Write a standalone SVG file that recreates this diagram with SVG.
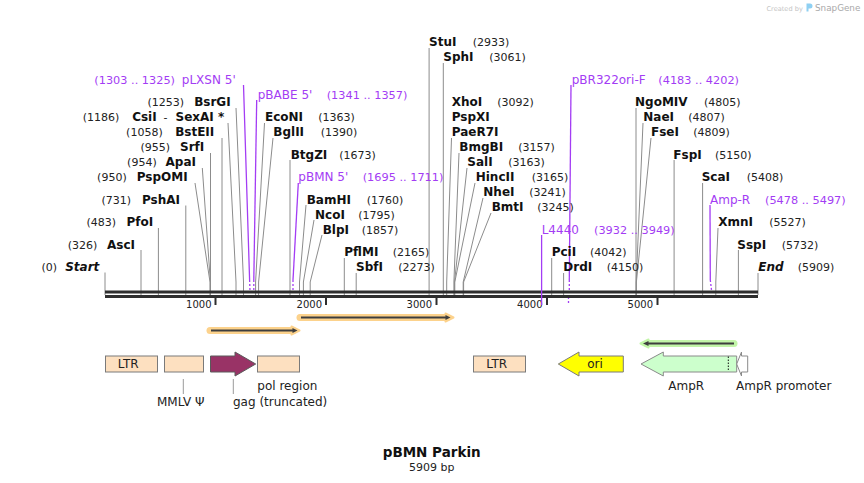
<svg xmlns="http://www.w3.org/2000/svg" width="864" height="483" viewBox="0 0 864 483">
<style>
text{font-family:"DejaVu Sans",Verdana,sans-serif;}
.n{font-size:12px;font-weight:bold;fill:#111}
.c{font-size:11px;fill:#222}
.pn{font-size:12px;fill:#a33cf4}
.pc{font-size:11.3px;fill:#a33cf4}
.e{text-anchor:end}
.ln{fill:none;stroke:#8c8c8c;stroke-width:1}
.pl{fill:none;stroke:#a33cf4;stroke-width:1.3}
.pd{fill:none;stroke:#a33cf4;stroke-width:1.3;stroke-dasharray:2 2}
.tk{font-size:10px;fill:#222;text-anchor:end}
.fl{font-size:12px;fill:#222}
.box{fill:#fde0c0;stroke:#7a7a7a;stroke-width:1}
.ld{stroke:#9a9a9a;stroke-width:1}
</style>

<!-- watermark -->
<g id="watermark">
<text x="766.5" y="10.5" font-size="6.6" fill="#c4c4c4">Created by</text>
<path d="M806.5,3.5 h3.5 a2.5,2.5 0 0 1 0,5 h-1.5 v3 h-2 z" fill="#8fd0f2"/>
<text x="815" y="11" font-size="8.8" fill="#a9a9a9">SnapGene</text>
</g>

<!-- connectors -->
<g id="connectors">
<path class="ln" d="M105,272.5V295"/>
<path class="ln" d="M141,250V295"/>
<path class="ln" d="M158.4,228V295"/>
<path class="ln" d="M185.8,205.5V295"/>
<path class="ln" d="M195,183L210,282V295"/>
<path class="ln" d="M202.3,168L210.4,282V295"/>
<path class="ln" d="M210.5,153V295"/>
<path class="ln" d="M222,138V295"/>
<path class="ln" d="M228,123L236,282V295"/>
<path class="ln" d="M236,108L243.5,282V295"/>
<path class="ln" d="M264.5,123L255.6,282V295"/>
<path class="ln" d="M273,138L258.6,282V295"/>
<path class="ln" d="M290,160V295"/>
<path class="ln" d="M306,205L299.5,282V295"/>
<path class="ln" d="M314,220L303.4,282V295"/>
<path class="ln" d="M322,235L310.2,282V295"/>
<path class="ln" d="M344.3,258V295"/>
<path class="ln" d="M356.2,273V295"/>
<path class="ln" d="M429.1,48V295"/>
<path class="ln" d="M443.3,63V295"/>
<path class="ln" d="M451.5,138L446.7,282V295"/>
<path class="ln" d="M459,153L453.9,282V295"/>
<path class="ln" d="M467,168L454.5,282V295"/>
<path class="ln" d="M475,183L454.8,282V295"/>
<path class="ln" d="M483,198L463.2,282V295"/>
<path class="ln" d="M491,213L463.6,282V295"/>
<path class="ln" d="M551.7,258V295"/>
<path class="ln" d="M563.6,273V295"/>
<path class="ln" d="M636,108V295"/>
<path class="ln" d="M643,123L636.2,282V295"/>
<path class="ln" d="M651,138L636.4,282V295"/>
<path class="ln" d="M674.1,160V295"/>
<path class="ln" d="M702.6,183V295"/>
<path class="ln" d="M718,228L715.8,282V295"/>
<path class="ln" d="M738.4,250V295"/>
<path class="ln" d="M758,273V295"/>
<!-- primers -->
<path class="pl" d="M243.5,85L249.6,280"/><path class="pd" d="M249.6,280L250,291"/>
<path class="pl" d="M256.7,100L253.8,280"/><path class="pd" d="M253.8,280L253.8,291"/>
<path class="pl" d="M298.3,183L293,280"/><path class="pd" d="M293,280L293,291"/>
<path class="pl" d="M571,85L569.3,280"/><path class="pd" d="M569.3,280V291M568.5,297V303"/>
<path class="pl" d="M710,205L710.3,280"/><path class="pd" d="M710.3,280L711.5,290"/>
</g>

<!-- sequence bar -->
<g id="backbone">
<rect x="105" y="290.5" width="653" height="3" fill="#2e2e2e"/>
<rect x="105" y="295" width="653" height="3" fill="#2e2e2e"/>
<rect x="214.5" y="297.5" width="2" height="7.5" fill="#2e2e2e"/>
<rect x="325" y="297.5" width="2" height="7.5" fill="#2e2e2e"/>
<rect x="435.5" y="297.5" width="2" height="7.5" fill="#2e2e2e"/>
<rect x="546" y="297.5" width="2" height="7.5" fill="#2e2e2e"/>
<rect x="656.5" y="297.5" width="2" height="7.5" fill="#2e2e2e"/>
<text class="tk" x="211.5" y="307.5">1000</text>
<text class="tk" x="322" y="307.5">2000</text>
<text class="tk" x="432" y="307.5">3000</text>
<text class="tk" x="542.5" y="307.5">4000</text>
<text class="tk" x="653" y="307.5">5000</text>
<path d="M541.6,235V305" stroke="#a33cf4" stroke-width="1.3"/>
</g>

<!-- left labels -->
<g id="Start"><text class="c e" x="57" y="271">(0)</text><text class="n e" x="99.3" y="271" font-style="italic">Start</text></g>
<g id="AscI"><text class="c e" x="97.3" y="248.5">(326)</text><text class="n e" x="135" y="248.5">AscI</text></g>
<g id="PfoI"><text class="c e" x="116" y="226">(483)</text><text class="n e" x="153.3" y="226">PfoI</text></g>
<g id="PshAI"><text class="c e" x="131" y="203.5">(731)</text><text class="n e" x="180" y="203.5">PshAI</text></g>
<g id="PspOMI"><text class="c e" x="126.7" y="181">(950)</text><text class="n e" x="187.7" y="181">PspOMI</text></g>
<g id="ApaI"><text class="c e" x="156.7" y="166">(954)</text><text class="n e" x="196" y="166">ApaI</text></g>
<g id="SrfI"><text class="c e" x="170" y="151">(955)</text><text class="n e" x="204.3" y="151">SrfI</text></g>
<g id="BstEII"><text class="c e" x="162.7" y="136">(1058)</text><text class="n e" x="214.3" y="136">BstEII</text></g>
<g id="CsiI-SexAI"><text class="c e" x="119.3" y="121">(1186)</text><text class="n e" x="156.7" y="121">CsiI</text><text class="c" x="163.5" y="121">-</text><text class="n e" x="224.3" y="121">SexAI *</text></g>
<g id="BsrGI"><text class="c e" x="184" y="106">(1253)</text><text class="n e" x="230.7" y="106">BsrGI</text></g>
<g id="pLXSN5"><text class="pc e" x="175" y="83.5">(1303 .. 1325)</text><text class="pn e" x="235.7" y="83.5">pLXSN 5'</text></g>

<!-- right labels -->
<g id="pBABE5"><text class="pn" x="257.7" y="98.5">pBABE 5'</text><text class="pc" x="326.7" y="98.5">(1341 .. 1357)</text></g>
<g id="EcoNI"><text class="n" x="265" y="121">EcoNI</text><text class="c" x="318.3" y="121">(1363)</text></g>
<g id="BglII"><text class="n" x="273.3" y="136">BglII</text><text class="c" x="320.7" y="136">(1390)</text></g>
<g id="BtgZI"><text class="n" x="290.7" y="158.5">BtgZI</text><text class="c" x="339.3" y="158.5">(1673)</text></g>
<g id="pBMN5"><text class="pn" x="298.3" y="181">pBMN 5'</text><text class="pc" x="362.7" y="181">(1695 .. 1711)</text></g>
<g id="BamHI"><text class="n" x="306.7" y="203.5">BamHI</text><text class="c" x="366.7" y="203.5">(1760)</text></g>
<g id="NcoI"><text class="n" x="315" y="218.5">NcoI</text><text class="c" x="358.3" y="218.5">(1795)</text></g>
<g id="BlpI"><text class="n" x="322.7" y="233.5">BlpI</text><text class="c" x="361.7" y="233.5">(1857)</text></g>
<g id="PflMI"><text class="n" x="344.3" y="256">PflMI</text><text class="c" x="392.7" y="256">(2165)</text></g>
<g id="SbfI"><text class="n" x="356" y="271">SbfI</text><text class="c" x="398.3" y="271">(2273)</text></g>
<g id="StuI"><text class="n" x="429" y="46">StuI</text><text class="c" x="472.7" y="46">(2933)</text></g>
<g id="SphI"><text class="n" x="443.3" y="61">SphI</text><text class="c" x="489.3" y="61">(3061)</text></g>
<g id="XhoI"><text class="n" x="451.7" y="106">XhoI</text><text class="c" x="497.3" y="106">(3092)</text></g>
<g id="PspXI"><text class="n" x="451.7" y="121">PspXI</text></g>
<g id="PaeR7I"><text class="n" x="451.7" y="136">PaeR7I</text></g>
<g id="BmgBI"><text class="n" x="459.3" y="151">BmgBI</text><text class="c" x="518.3" y="151">(3157)</text></g>
<g id="SalI"><text class="n" x="467.3" y="166">SalI</text><text class="c" x="508.3" y="166">(3163)</text></g>
<g id="HincII"><text class="n" x="475.7" y="181">HincII</text><text class="c" x="531.7" y="181">(3165)</text></g>
<g id="NheI"><text class="n" x="483.3" y="196">NheI</text><text class="c" x="529.3" y="196">(3241)</text></g>
<g id="BmtI"><text class="n" x="491.7" y="211">BmtI</text><text class="c" x="537.3" y="211">(3245)</text></g>
<g id="L4440"><text class="pn" x="541.7" y="233.5">L4440</text><text class="pc" x="594" y="233.5">(3932 .. 3949)</text></g>
<g id="PciI"><text class="n" x="551.7" y="256">PciI</text><text class="c" x="590" y="256">(4042)</text></g>
<g id="DrdI"><text class="n" x="563.3" y="271">DrdI</text><text class="c" x="606.7" y="271">(4150)</text></g>
<g id="pBR322ori-F"><text class="pn" x="571.7" y="83.5">pBR322ori-F</text><text class="pc" x="658.3" y="83.5">(4183 .. 4202)</text></g>
<g id="NgoMIV"><text class="n" x="635" y="106">NgoMIV</text><text class="c" x="704" y="106">(4805)</text></g>
<g id="NaeI"><text class="n" x="643.3" y="121">NaeI</text><text class="c" x="688.3" y="121">(4807)</text></g>
<g id="FseI"><text class="n" x="651" y="136">FseI</text><text class="c" x="693.3" y="136">(4809)</text></g>
<g id="FspI"><text class="n" x="673.3" y="158.5">FspI</text><text class="c" x="715" y="158.5">(5150)</text></g>
<g id="ScaI"><text class="n" x="701.7" y="181">ScaI</text><text class="c" x="746.7" y="181">(5408)</text></g>
<g id="Amp-R"><text class="pn" x="710" y="203.5">Amp-R</text><text class="pc" x="765" y="203.5">(5478 .. 5497)</text></g>
<g id="XmnI"><text class="n" x="718.3" y="226">XmnI</text><text class="c" x="769.3" y="226">(5527)</text></g>
<g id="SspI"><text class="n" x="737.3" y="248.5">SspI</text><text class="c" x="781.7" y="248.5">(5732)</text></g>
<g id="End"><text class="n" x="758.3" y="271" font-style="italic">End</text><text class="c" x="797.7" y="271">(5909)</text></g>

<!-- ORFs -->
<g id="orf1">
<path d="M210,330.5H293" stroke="#fcd28c" stroke-width="7" stroke-linecap="round"/>
<polygon points="291.5,326.5 299.5,330.5 291.5,334.5" fill="#fcd28c" stroke="#fcd28c" stroke-width="2" stroke-linejoin="round"/>
<path d="M211,330.5H293" stroke="#3e3e3e" stroke-width="2"/>
<polygon points="292.5,328 297.5,330.5 292.5,333" fill="#3e3e3e"/>
</g>
<g id="orf2">
<path d="M300,317.5H447" stroke="#fcd28c" stroke-width="7" stroke-linecap="round"/>
<polygon points="445.5,313.5 453.5,317.5 445.5,321.5" fill="#fcd28c" stroke="#fcd28c" stroke-width="2" stroke-linejoin="round"/>
<path d="M301,317.5H446" stroke="#3e3e3e" stroke-width="2"/>
<polygon points="445.5,315 450.5,317.5 445.5,320" fill="#3e3e3e"/>
</g>
<g id="orf3">
<path d="M647,343.5H734" stroke="#c2f5a8" stroke-width="7" stroke-linecap="round"/>
<polygon points="648.5,339.5 640.5,343.5 648.5,347.5" fill="#c2f5a8" stroke="#c2f5a8" stroke-width="2" stroke-linejoin="round"/>
<path d="M647,343.5H734" stroke="#3e3e3e" stroke-width="2"/>
<polygon points="648.5,341 643,343.5 648.5,346" fill="#3e3e3e"/>
</g>

<!-- features -->
<g id="LTR1"><rect class="box" x="105.5" y="356" width="52" height="16"/><text class="fl" x="128.2" y="367.5" text-anchor="middle">LTR</text></g>
<g id="MMLV"><rect class="box" x="164.5" y="356" width="39" height="16"/><path class="ld" d="M183.3,379V394"/><text class="fl" x="157" y="405.5">MMLV Ψ</text></g>
<g id="gag"><polygon points="210.5,356 235,356 235,352 255.7,364 235,376 235,372 210.5,372" fill="#993366" stroke="#5a5a5a" stroke-width="1"/><path class="ld" d="M233.3,379V394"/><text class="fl" x="233" y="405.5">gag (truncated)</text></g>
<g id="pol"><rect class="box" x="257.5" y="356" width="42" height="16"/><text class="fl" x="257.3" y="389.5">pol region</text></g>
<g id="LTR2"><rect class="box" x="473.5" y="356" width="52" height="16"/><text class="fl" x="496.7" y="367.5" text-anchor="middle">LTR</text></g>
<g id="ori"><polygon points="623.3,356 579,356 579,352 558.3,364 579,376 579,372 623.3,372" fill="#ffff00" stroke="#7a7a7a" stroke-width="1"/><text class="fl" x="595" y="367.5" text-anchor="middle">ori</text></g>
<g id="AmpR"><polygon points="736.7,356 663.3,356 663.3,352 641,364 663.3,376 663.3,372 736.7,372" fill="#ccffcc" stroke="#8a8a8a" stroke-width="1"/><path d="M728.3,356.5V371.5" stroke="#111" stroke-width="1" stroke-dasharray="1.5 1.5"/><text class="fl" x="668.3" y="389.5">AmpR</text></g>
<g id="AmpRpromoter"><polygon points="747.7,356 741.5,356 741.5,352 736.7,364 741.5,376 741.5,372 747.7,372" fill="#ffffff" stroke="#8a8a8a" stroke-width="1"/><text class="fl" x="736" y="389.5">AmpR promoter</text></g>

<!-- title -->
<g id="title">
<text x="431.7" y="457" text-anchor="middle" font-size="13.5" font-weight="bold" fill="#111">pBMN Parkin</text>
<text x="431.7" y="470.5" text-anchor="middle" font-size="11" fill="#222">5909 bp</text>
</g>
</svg>
